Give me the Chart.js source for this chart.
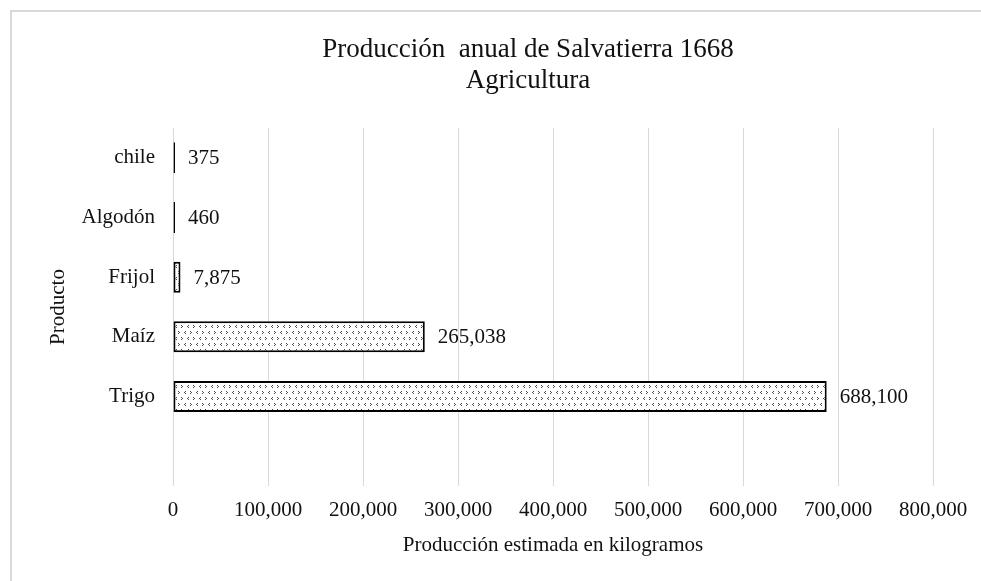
<!DOCTYPE html>
<html><head><meta charset="utf-8">
<script src="https://cdn.jsdelivr.net/npm/chart.js@4/dist/chart.umd.min.js"></script>
<style>
html,body{margin:0;padding:0;background:#fff;}
#wrap{position:relative;width:981px;height:581px;overflow:hidden;background:#fff;}
#frame{position:absolute;left:10px;top:10px;width:1000px;height:600px;border-left:2px solid #d9d9d9;border-top:2px solid #d9d9d9;box-sizing:border-box;}
canvas{position:absolute;left:0;top:0;}
</style></head><body>
<div id="wrap"><div id="frame"></div><canvas id="c" width="981" height="581"></canvas></div>
<script>
const categories = ['chile', 'Algodón', 'Frijol', 'Maíz', 'Trigo', ''];
const production = [375, 460, 7875, 265038, 688100, null];
const titleLines = ['Producción  anual de Salvatierra 1668', 'Agricultura'];
const xTitle = 'Producción estimada en kilogramos';
const yTitle = 'Producto';
const xMin = 0, xMax = 800000, xStep = 100000;

const FONT = '"Liberation Serif", "Times New Roman", serif';
const TXT = '#111111';

const canvas = document.getElementById('c');
const ctx0 = canvas.getContext('2d');

function makePattern() {
  const c = document.createElement('canvas');
  c.width = 12; c.height = 12;
  const g = c.getContext('2d');
  g.fillStyle = '#fff'; g.fillRect(0, 0, 12, 12);
  g.fillStyle = '#4a4a4a';
  const px = [
    [1,1],[2,2],[1,3],      // >
    [8,1],[7,2],[8,3],      // <
    [5,7],[4,8],[5,9],      // <
    [10,7],[11,8],[10,9]    // >
  ];
  px.forEach(p => g.fillRect(p[0], p[1], 1, 1));
  return ctx0.createPattern(c, 'repeat');
}
const pattern = makePattern();

const fmt = v => Number(v).toLocaleString('en-US');

const titlePlugin = {
  id: 'twoLineTitle',
  afterDraw(chart) {
    const ctx = chart.ctx;
    ctx.save();
    ctx.fillStyle = TXT;
    ctx.font = '27px ' + FONT;
    ctx.textAlign = 'center';
    ctx.textBaseline = 'middle';
    ctx.fillText(titleLines[0], 528, 50);
    ctx.fillText(titleLines[1], 528, 81);
    ctx.restore();
  }
};

const labelPlugin = {
  id: 'barValues',
  afterDatasetsDraw(chart) {
    const ctx = chart.ctx;
    const meta = chart.getDatasetMeta(0);
    ctx.save();
    ctx.fillStyle = TXT;
    ctx.font = '21px ' + FONT;
    ctx.textAlign = 'left';
    ctx.textBaseline = 'middle';
    meta.data.forEach((bar, i) => {
      const v = production[i];
      if (v == null) return;
      ctx.fillText(fmt(v), bar.x + 13, bar.y + 1);
    });
    ctx.restore();
  }
};

new Chart(canvas, {
  type: 'bar',
  data: {
    labels: categories,
    datasets: [{
      data: production,
      backgroundColor: pattern,
      borderColor: '#000',
      borderWidth: 2,
      borderSkipped: false,
      minBarLength: 2,
      barPercentage: 0.52,
      categoryPercentage: 1
    }]
  },
  options: {
    indexAxis: 'y',
    responsive: false,
    animation: false,
    layout: { padding: { top: 128, right: 48, bottom: 0, left: 0 } },
    plugins: { legend: { display: false }, tooltip: { enabled: false }, title: { display: false } },
    scales: {
      x: {
        min: xMin, max: xMax,
        ticks: { stepSize: xStep, callback: v => fmt(v), color: TXT, font: { family: FONT, size: 21 }, padding: 12, maxRotation: 0 },
        grid: { color: '#d9d9d9', lineWidth: 1, drawTicks: false },
        border: { display: false },
        title: { display: true, text: xTitle, color: TXT, font: { family: FONT, size: 21 }, padding: { top: 0, bottom: 23 } },
        afterFit(s) { s.height = 95; }
      },
      y: {
        ticks: { color: TXT, font: { family: FONT, size: 21 }, padding: 18 },
        grid: { display: false, drawTicks: false },
        border: { display: false },
        title: { display: true, text: yTitle, color: TXT, font: { family: FONT, size: 21 }, padding: { top: 46, bottom: 0 } },
        afterFit(s) { s.width = 173; }
      }
    }
  },
  plugins: [titlePlugin, labelPlugin]
});
</script>
</body></html>
